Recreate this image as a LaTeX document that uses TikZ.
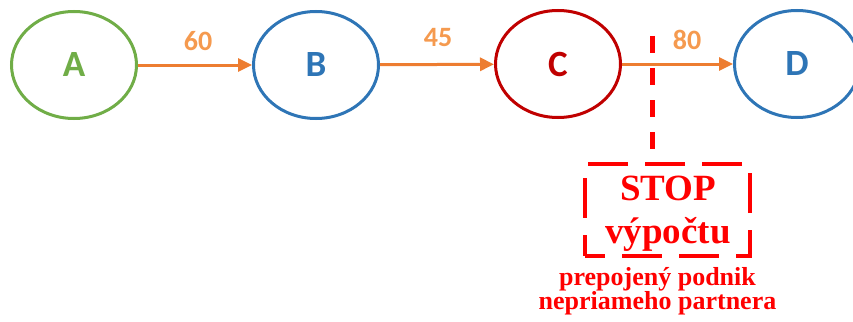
\documentclass[tikz,border=0pt]{standalone}
\usepackage{fontspec}
\setmainfont{Liberation Serif}
\newfontfamily\calib{Carlito}
\usetikzlibrary{arrows.meta,shapes.geometric}
\definecolor{cgreen}{HTML}{70AD47}
\definecolor{cblue}{HTML}{2E75B6}
\definecolor{cdred}{HTML}{C00000}
\definecolor{corange}{HTML}{ED7D31}
\definecolor{clabel}{HTML}{F59A4F}
\definecolor{cred}{HTML}{FF0000}
\tikzset{
  state/.style={ellipse, draw, line width=3pt, minimum width=125pt, minimum height=107pt, inner sep=0pt, font=\calib\bfseries\fontsize{37}{40}\selectfont},
  flow/.style={draw=corange, line width=3pt, -{Triangle[length=14pt,width=13pt]}},
  wlabel/.style={text=clabel, font=\calib\bfseries\fontsize{28}{30}\selectfont, inner sep=0pt},
  stopline/.style={draw=cred, line width=4.5pt, dash pattern=on 17pt off 15pt},
  stopbox/.style={draw=cred, line width=4.5pt, dash pattern=on 40pt off 17pt, dash phase=20pt, minimum width=165pt, minimum height=92pt, inner sep=0pt},
  bigred/.style={text=cred, font=\bfseries\fontsize{37}{40}\selectfont, inner sep=0pt, anchor=base},
  smallred/.style={text=cred, font=\bfseries\fontsize{26}{28}\selectfont, inner sep=0pt, anchor=base}
}
\begin{document}
\begin{tikzpicture}[x=1pt,y=-1pt]
\useasboundingbox (0,0) rectangle (853,321);
\node[state, draw=cgreen, text=cgreen] (A) at (74,65) {A};
\node[state, draw=cblue, text=cblue] (B) at (316,65) {B};
\node[state, draw=cdred, text=cdred] (C) at (558,64) {C};
\node[state, draw=cblue, text=cblue] (D) at (797,64) {D};
\draw[flow] (A) -- (B);
\draw[flow] (B) -- (C);
\draw[flow] (C) -- (D);
\node[wlabel] (l1) at (198,41) {60};
\node[wlabel] (l2) at (438,38) {45};
\node[wlabel] (l3) at (687,40) {80};
\node[stopbox] (box) at (667.5,210) {};
\coordinate (top) at (652.5,36);
\draw[stopline] (top) -- (box.north -| top);
\node[bigred] (stop) at (668,200) {STOP};
\node[bigred] (vyp) at (668,243) {výpočtu};
\node[smallred] (p1) at (657.5,285) {prepojený podnik};
\node[smallred] (p2) at (657.5,309) {nepriameho partnera};
\end{tikzpicture}
\end{document}
